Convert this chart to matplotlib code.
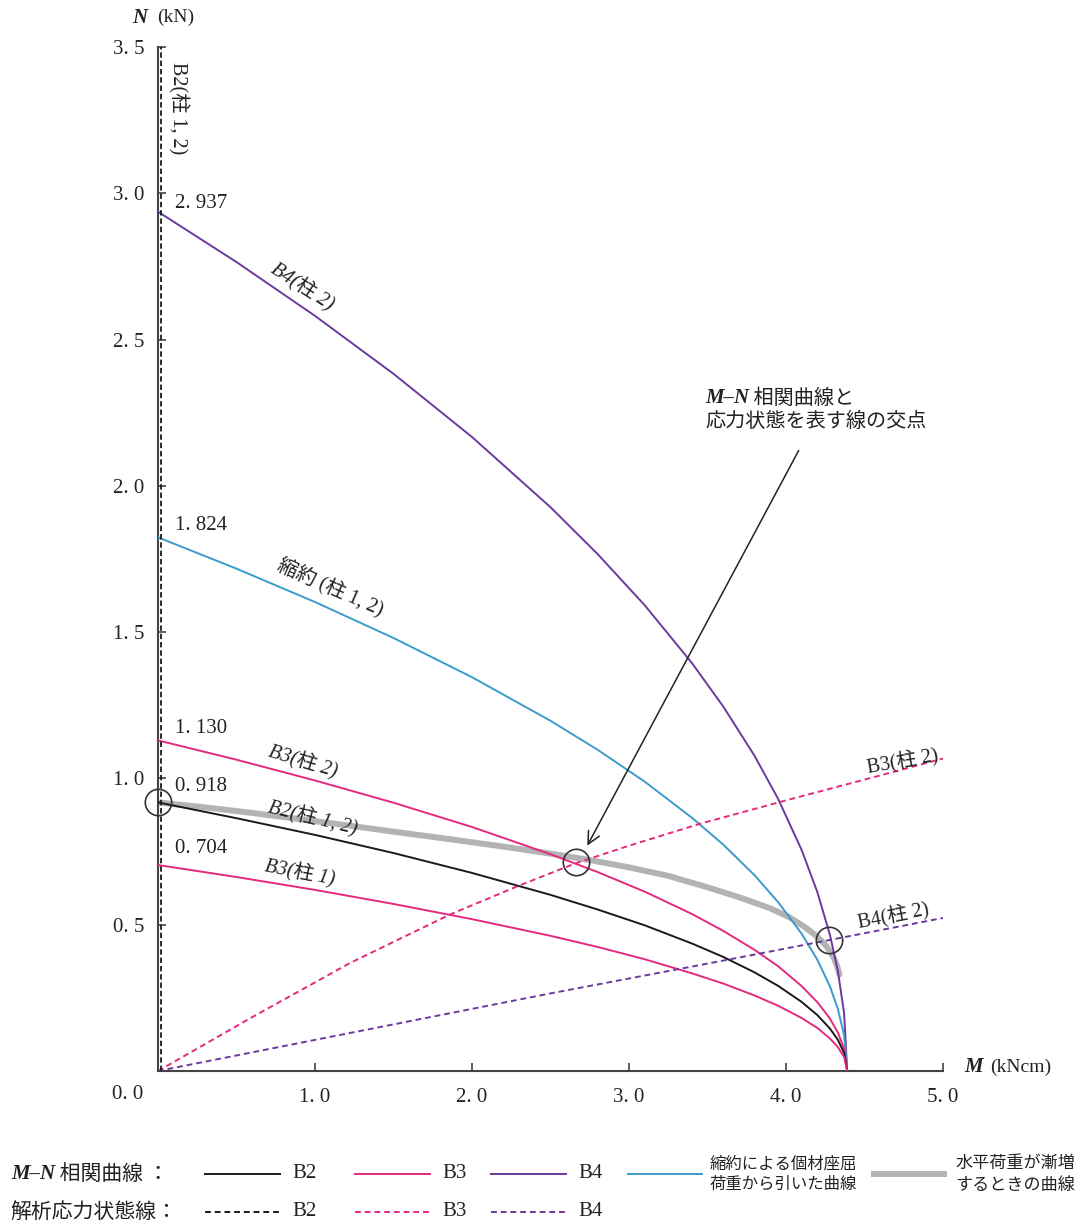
import matplotlib
matplotlib.use('Agg')
import matplotlib.pyplot as plt

SERIF = ['Liberation Serif', 'Noto Sans CJK JP']
JP = ['Noto Sans CJK JP', 'DejaVu Sans']

# M-N 相関曲線 (M: kNcm, N: kN) -- 図から読み取り
M_curve = [0, 0.5, 1.0, 1.5, 2.0, 2.5, 2.8, 3.1, 3.4, 3.6, 3.8, 3.95, 4.1, 4.2, 4.28, 4.33, 4.37, 4.39]
N_b4 = [2.937, 2.765, 2.581, 2.383, 2.167, 1.927, 1.767, 1.592, 1.395, 1.246, 1.077, 0.930,
        0.755, 0.611, 0.465, 0.343, 0.198, 0]
N_shuku = [1.824, 1.717, 1.603, 1.480, 1.346, 1.197, 1.098, 0.989, 0.866, 0.774, 0.669, 0.577,
           0.469, 0.380, 0.289, 0.213, 0.123, 0]
N_b3_2 = [1.130, 1.064, 0.993, 0.917, 0.834, 0.741, 0.680, 0.613, 0.537, 0.479, 0.414, 0.358,
          0.290, 0.235, 0.179, 0.132, 0.076, 0]
N_b2 = [0.918, 0.864, 0.807, 0.745, 0.677, 0.602, 0.552, 0.498, 0.436, 0.390, 0.337, 0.291,
        0.236, 0.191, 0.145, 0.107, 0.062, 0]
N_b3_1 = [0.704, 0.663, 0.619, 0.571, 0.519, 0.462, 0.424, 0.382, 0.334, 0.299, 0.258, 0.223,
          0.181, 0.147, 0.111, 0.082, 0.048, 0]

# 水平荷重が漸増するときの曲線
M_gray = [0, 0.3, 0.6, 0.9, 1.2, 1.5, 1.85, 2.2, 2.5, 2.75, 3.0, 3.25, 3.5, 3.7, 3.9, 4.02,
          4.12, 4.2, 4.26, 4.3, 4.325, 4.34]
N_gray = [0.918, 0.901, 0.882, 0.861, 0.840, 0.818, 0.793, 0.767, 0.743, 0.721, 0.696, 0.667,
          0.628, 0.594, 0.556, 0.526, 0.492, 0.459, 0.425, 0.392, 0.36, 0.33]

# 解析応力状態線
M_b3d = [0, 0.586, 1.223, 1.86, 2.306, 2.66, 3.0, 3.452, 4.0, 4.599, 5.0]
N_b3d = [0, 0.180, 0.369, 0.535, 0.635, 0.710, 0.770, 0.845, 0.925, 1.010, 1.068]
M_b4d = [0, 1.223, 2.497, 3.5, 4.28, 5.0]
N_b4d = [0, 0.130, 0.265, 0.367, 0.448, 0.523]
M_b2d = [0.017, 0.017]
N_b2d = [0, 3.5]

# 交点
M_cross = [0, 2.662, 4.274]
N_cross = [0.918, 0.714, 0.448]

n0_vals = [2.937, 1.824, 1.130, 0.918, 0.704]

BLACK = '#1a1a1a'
PINK = '#e4297f'
PURPLE = '#6a3a9c'
CYAN = '#3b9bcb'
GRAY = '#b3b3b3'

W, H = 1090, 1224
fig = plt.figure(figsize=(W / 100, H / 100), dpi=100)
ax = fig.add_axes([158 / W, 1 - 1071 / H, (943 - 158) / W, (1071 - 47) / H])

ax.plot(M_gray, N_gray, color=GRAY, lw=4.3, solid_capstyle='round', zorder=2)
ax.plot(M_curve, N_b4, color=PURPLE, lw=1.4, zorder=3)
ax.plot(M_curve, N_shuku, color=CYAN, lw=1.4, zorder=3)
ax.plot(M_curve, N_b3_2, color=PINK, lw=1.4, zorder=3)
ax.plot(M_curve, N_b2, color=BLACK, lw=1.4, zorder=3)
ax.plot(M_curve, N_b3_1, color=PINK, lw=1.4, zorder=3)
ax.plot(M_b3d, N_b3d, color=PINK, lw=1.4, ls=(0, (3, 2)), zorder=3)
ax.plot(M_b4d, N_b4d, color=PURPLE, lw=1.4, ls=(0, (3, 2)), zorder=3)
ax.plot(M_b2d, N_b2d, color=BLACK, lw=1.3, ls=(0, (3, 1.6)), zorder=3, clip_on=False)
ax.plot(M_cross, N_cross, 'o', mfc='none', mec='#333333', ms=19, mew=1.2, zorder=4, clip_on=False)

ax.annotate('', xy=(2.726, 0.762), xytext=(4.089, 2.129),
            arrowprops=dict(arrowstyle='->', lw=1.1, color='#222222', mutation_scale=22))

ax.set_xlim(0, 5)
ax.set_ylim(0, 3.5)
for s in ['top', 'right']:
    ax.spines[s].set_visible(False)
for s in ['left', 'bottom']:
    ax.spines[s].set_color('#444444')
    ax.spines[s].set_linewidth(1.5)

xt = [1.0, 2.0, 3.0, 4.0, 5.0]
yt = [0.5, 1.0, 1.5, 2.0, 2.5, 3.0, 3.5]
ax.set_xticks(xt)
ax.set_xticklabels([('%.1f' % v).replace('.', '. ') for v in xt])
ax.set_yticks(yt)
ax.set_yticklabels([('%.1f' % v).replace('.', '. ') for v in yt])
ax.tick_params(direction='in', length=6, width=1.2, color='#444444', labelcolor='#222222')
ax.tick_params(axis='x', pad=12)
ax.tick_params(axis='y', pad=10)
for lab in ax.get_xticklabels() + ax.get_yticklabels():
    lab.set_family(SERIF)
    lab.set_fontsize(15)
ax.text(-0.191, -0.082, '0. 0', family=SERIF, fontsize=15, color='#222222',
        ha='center', va='center', clip_on=False)

# 軸ラベル
ax.text(-0.115, 3.60, 'N', family=SERIF, style='italic', weight='bold', fontsize=15,
        ha='center', va='center', color='#222222', clip_on=False)
ax.text(-0.006, 3.60, '(kN)', family=SERIF, fontsize=14, ha='left', va='center',
        color='#222222', clip_on=False)
ax.text(5.197, 0.014, 'M', family=SERIF, style='italic', weight='bold', fontsize=15,
        ha='center', va='center', color='#222222', clip_on=False)
ax.text(5.30, 0.014, '(kNcm)', family=SERIF, fontsize=14, ha='left', va='center',
        color='#222222', clip_on=False)

# 端部の値
n0_pos = [2.966, 1.866, 1.169, 0.974, 0.762]
for v, y in zip(n0_vals, n0_pos):
    ax.text(0.108, y, ('%.3f' % v).replace('.', '. '), family=SERIF, fontsize=15,
            ha='left', va='center', color='#222222')

# 曲線ラベル
curve_labels = [
    ('B4(柱 2)', 0.917, 2.679, -33, 'italic'),
    ('縮約 (柱 1, 2)', 1.096, 1.651, -24, 'normal'),
    ('B3(柱 2)', 0.924, 1.056, -17, 'italic'),
    ('B2(柱 1, 2)', 0.987, 0.865, -14, 'italic'),
    ('B3(柱 1)', 0.904, 0.677, -11, 'italic'),
    ('B3(柱 2)', 4.745, 1.056, 10, 'normal'),
    ('B4(柱 2)', 4.682, 0.530, 11, 'normal'),
    ('B2(柱 1, 2)', 0.127, 3.291, -90, 'normal'),
]
for txt, x, y, rot, st in curve_labels:
    ax.text(x, y, txt, family=SERIF, style=st, fontsize=14.5, rotation=rot,
            ha='center', va='center', color='#222222', clip_on=False)

# 注記
t1 = ax.text(3.484, 2.334, 'M–N', family=SERIF, style='italic', weight='bold', fontsize=15,
             ha='left', va='top', color='#222222')
ax.annotate(' 相関曲線と', xy=(1, 0.5), xycoords=t1, family=JP, fontsize=14.5,
            ha='left', va='center', color='#222222')
ax.text(3.484, 2.255, '応力状態を表す線の交点', family=JP, fontsize=14.5,
        ha='left', va='top', color='#222222')

# 凡例 (ピクセル座標のオーバーレイ)
lay = fig.add_axes([0, 0, 1, 1])
lay.set_xlim(0, W)
lay.set_ylim(H, 0)
lay.axis('off')

row1, row2 = 1174, 1212
t2 = lay.text(11, row1, 'M–N', family=SERIF, style='italic', weight='bold', fontsize=15,
              ha='left', va='center', color='#222222')
lay.annotate(' 相関曲線 ：', xy=(1, 0.5), xycoords=t2, family=JP, fontsize=15,
             ha='left', va='center', color='#222222')
lay.text(10, row2, '解析応力状態線：', family=JP, fontsize=15, ha='left', va='center',
         color='#222222')

leg_x = [(205, 280, 292, 'B2', BLACK), (355, 430, 442, 'B3', PINK), (491, 566, 578, 'B4', PURPLE)]
for x0, x1, xt_, name, col in leg_x:
    lay.plot([x0, x1], [row1, row1], color=col, lw=1.4)
    lay.plot([x0, x1], [row2, row2], color=col, lw=1.4, ls=(0, (3, 2)))
    lay.text(xt_, row1, name, family=SERIF, fontsize=15, ha='left', va='center', color='#222222')
    lay.text(xt_, row2, name, family=SERIF, fontsize=15, ha='left', va='center', color='#222222')

lay.plot([628, 702], [row1, row1], color=CYAN, lw=1.4)
lay.text(710, row1, '縮約による個材座屈\n荷重から引いた曲線', family=JP, fontsize=11.8,
         ha='left', va='center', linespacing=1.25, color='#222222')
lay.plot([874, 944], [row1, row1], color=GRAY, lw=4.3)
lay.text(955, row1, '水平荷重が漸増\nするときの曲線', family=JP, fontsize=12.3,
         ha='left', va='center', linespacing=1.25, color='#222222')

fig.savefig('out.png', dpi=100)
